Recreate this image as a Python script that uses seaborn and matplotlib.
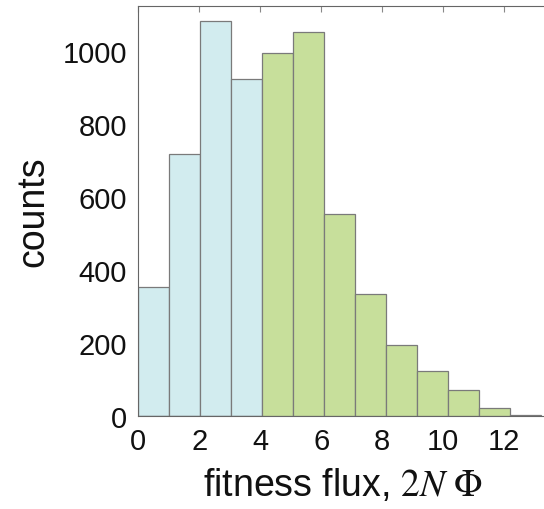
import numpy as np
import pandas as pd
import matplotlib
matplotlib.use("Agg")
import matplotlib.pyplot as plt
import seaborn as sns

# bin counts
counts = [354, 716, 1081, 922, 994, 1051, 552, 335, 196, 123, 72, 22, 3]
group = ["low"] * 4 + ["high"] * 9
bin_width = 1.015
edges = [i * bin_width for i in range(len(counts) + 1)]
centers = [e + bin_width / 2 for e in edges[:-1]]

df = pd.DataFrame({"flux": centers, "n": counts, "group": group})

sns.set_style("white")
plt.rcParams["font.family"] = ["Liberation Sans", "DejaVu Sans"]
plt.rcParams["mathtext.fontset"] = "stix"
plt.rcParams["text.color"] = "#111111"
plt.rcParams["axes.labelcolor"] = "#111111"
plt.rcParams["xtick.labelcolor"] = "#111111"
plt.rcParams["ytick.labelcolor"] = "#111111"

fig = plt.figure(figsize=(5.44, 5.10), dpi=100)
ax = fig.add_axes([0.254, 0.182, 0.754, 0.805])

colors = {"low": "#d2ecef", "high": "#c7df9b"}
for g in ["low", "high"]:
    sub = df[df["group"] == g]
    sns.histplot(x=sub["flux"].values, weights=sub["n"].values, bins=edges, ax=ax,
                 color=colors[g], alpha=1, edgecolor="#7a7a7a", linewidth=0.9)

ax.set_xlim(0, 13.45)
ax.set_ylim(0, 1123)
ax.set_xticks([0, 2, 4, 6, 8, 10, 12])
ax.set_yticks([0, 200, 400, 600, 800, 1000])
ax.tick_params(direction="in", length=4, width=0.8, color="#888888",
               top=True, right=False, labelsize=21, pad=8)
for s in ax.spines.values():
    s.set_color("#666666")
    s.set_linewidth(0.8)

ax.set_ylabel("counts", fontsize=27, labelpad=8)
ax.set_xlabel(r"fitness flux, $\mathit{2N}\ \Phi$", fontsize=27, labelpad=8)

fig.savefig("out.png", dpi=100)
